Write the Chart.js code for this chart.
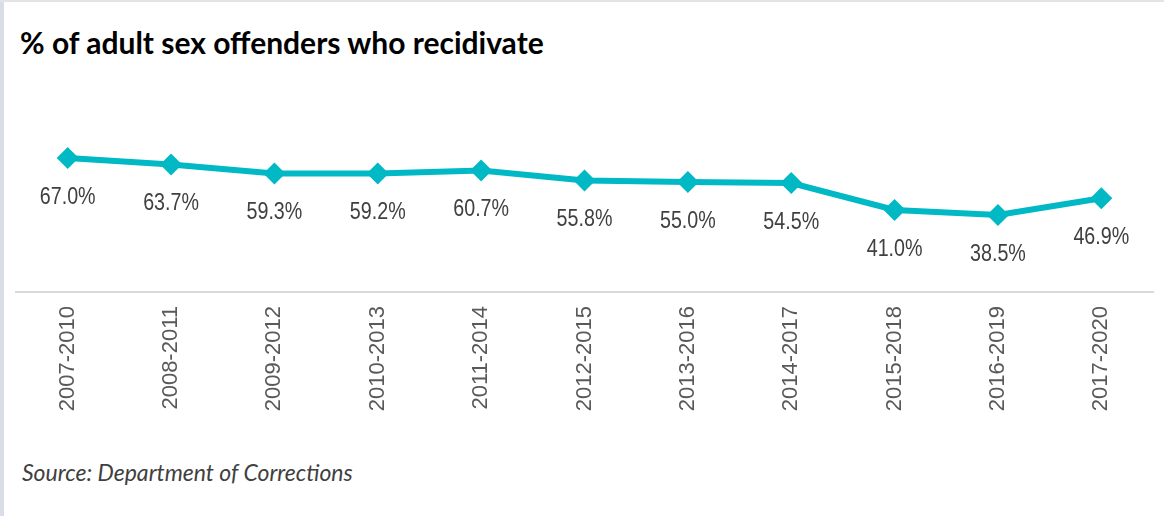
<!DOCTYPE html>
<html>
<head>
<meta charset="utf-8">
<title>Sex offender recidivism</title>
<script src="https://cdn.jsdelivr.net/npm/chart.js@4.4.1/dist/chart.umd.min.js"></script>
<style>
  html, body { margin: 0; padding: 0; background: #ffffff; }
  body { width: 1164px; height: 516px; position: relative; overflow: hidden; }
  .edge-left { position: absolute; left: 0; top: 0; width: 4px; height: 516px; background: #d7dee8; }
  .edge-top { position: absolute; left: 0; top: 0; width: 1164px; height: 2px; background: #e2e4e8; }
  .title {
    position: absolute; left: 20px; top: 27px;
    font-family: Lato, "Open Sans", sans-serif; font-weight: bold;
    font-size: 30px; line-height: 1; color: #000000; white-space: nowrap;
  }
  .source {
    position: absolute; left: 22px; top: 461px;
    font-family: Lato, "Open Sans", sans-serif; font-style: italic;
    font-size: 23px; line-height: 1; color: #404040; white-space: nowrap;
  }
  .chart-box { position: absolute; left: 0; top: 0; width: 1164px; height: 430px; }
</style>
</head>
<body>
<div class="edge-left"></div>
<div class="edge-top"></div>
<div class="title">% of adult sex offenders who recidivate</div>
<div class="chart-box"><canvas id="recidChart" width="1164" height="430"></canvas></div>
<div class="source">Source: Department of Corrections</div>

<script>
var periods = ['2007-2010', '2008-2011', '2009-2012', '2010-2013', '2011-2014', '2012-2015',
               '2013-2016', '2014-2017', '2015-2018', '2016-2019', '2017-2020'];
var recidRates = [67.0, 63.7, 59.3, 59.2, 60.7, 55.8, 55.0, 54.5, 41.0, 38.5, 46.9];
var yRange = [0, 100];

var teal = '#00b9c4';
var labelFont = '"Liberation Sans", Arial, sans-serif';

// percentage labels under each diamond, squeezed a little to look condensed
var pointLabels = {
    id: 'pointLabels',
    afterDatasetsDraw: function(chart) {
        var ctx = chart.ctx;
        var meta = chart.getDatasetMeta(0);
        ctx.save();
        ctx.font = '24px ' + labelFont;
        ctx.fillStyle = '#404040';
        ctx.textAlign = 'center';
        ctx.textBaseline = 'middle';
        meta.data.forEach(function(pt, i) {
            ctx.save();
            ctx.translate(pt.x, pt.y + 39);
            ctx.scale(0.82, 1);
            ctx.fillText(recidRates[i].toFixed(1) + '%', 0, 0);
            ctx.restore();
        });
        ctx.restore();
    }
};

new Chart(document.getElementById('recidChart').getContext('2d'), {
    type: 'line',
    data: {
        labels: periods,
        datasets: [{
            data: recidRates,
            borderColor: teal,
            backgroundColor: teal,
            borderWidth: 6,
            pointStyle: 'rectRot',
            pointRadius: 11,
            pointHoverRadius: 11,
            pointBorderWidth: 0,
            pointBackgroundColor: teal,
            tension: 0
        }]
    },
    options: {
        responsive: false,
        animation: false,
        layout: { padding: { top: 92, left: 16, right: 0, bottom: 8 } },
        plugins: {
            legend: { display: false },
            tooltip: { enabled: false }
        },
        scales: {
            x: {
                offset: true,
                grid: { display: false, drawTicks: false },
                border: { display: true, color: '#d9d9d9', width: 2 },
                afterFit: function(scale) { scale.height = 130; },
                ticks: {
                    color: '#595959',
                    font: { family: labelFont, size: 22 },
                    minRotation: 90,
                    maxRotation: 90,
                    padding: 14,
                    autoSkip: false
                }
            },
            y: {
                display: false,
                min: yRange[0],
                max: yRange[1]
            }
        }
    },
    plugins: [pointLabels]
});
</script>
</body>
</html>
